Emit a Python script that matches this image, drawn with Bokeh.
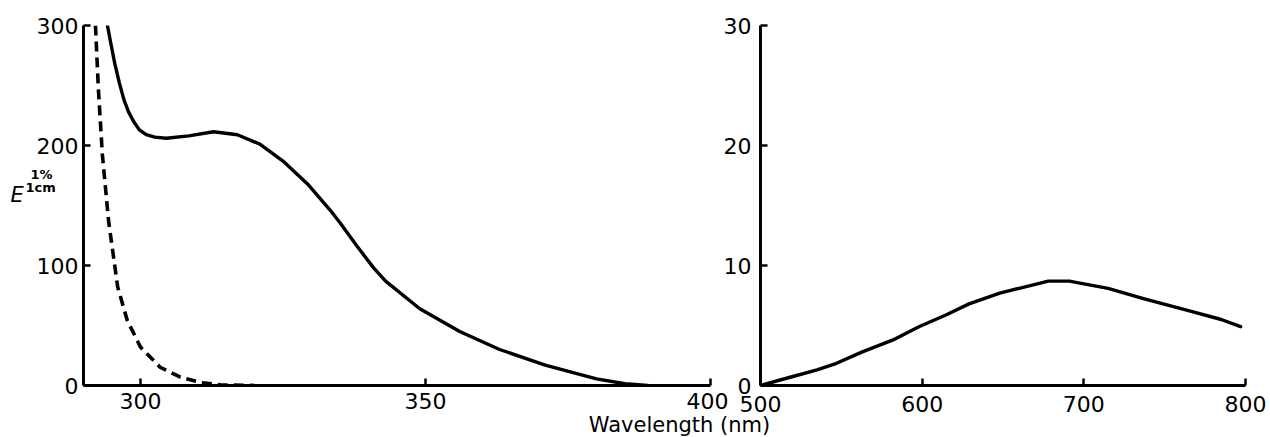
from bokeh.plotting import figure
from bokeh.layouts import row
from bokeh.models import Range1d, FixedTicker, Label
from bokeh.embed import file_html
from bokeh.resources import INLINE

# ---- data ----
uv_solid_nm = [294.2, 294.8, 295.5, 296.3, 297.1, 297.9, 298.8, 299.8, 301.0, 302.5,
               304.5, 308.5, 312.8, 317.0, 321.0, 325.0, 329.3, 333.3, 335.1, 338.0,
               340.9, 343.0, 349.0, 356.0, 363.0, 371.0, 380.0, 385.0, 389.0]
uv_solid_E = [300, 285, 268, 252, 238, 228, 220, 213, 209, 207,
              206, 208, 211.5, 209, 201, 187, 168, 146, 135, 116,
              98, 87, 64, 45, 30, 17, 5.5, 1.5, 0]

uv_dashed_nm = [292.1, 292.6, 293.3, 294.4, 296.0, 297.7, 300.0, 303.5, 307.0, 310.5, 314.0, 320.0]
uv_dashed_E = [300, 248, 193, 137, 82, 54, 32, 15, 7, 2.5, 0.5, 0]

vis_nm = [500, 520, 535, 547, 563, 582, 598, 615, 629, 648, 660, 678, 691, 715, 738, 763, 785, 797]
vis_E = [0, 0.75, 1.3, 1.85, 2.8, 3.8, 4.9, 5.9, 6.8, 7.7, 8.1, 8.7, 8.7, 8.1, 7.2, 6.3, 5.5, 4.9]

left_xticks = [300, 350, 400]
left_yticks = [0, 100, 200, 300]
right_xticks = [500, 600, 700, 800]
right_yticks = [0, 10, 20, 30]

x_title = "Wavelength (nm)"

FONT = "DejaVu Sans"
TICK_SIZE = "22px"


def style(p, xt, yt, xstand, ystand):
    p.xgrid.visible = False
    p.ygrid.visible = False
    p.outline_line_color = None
    p.background_fill_alpha = 0
    p.border_fill_alpha = 0
    p.xaxis.ticker = FixedTicker(ticks=xt)
    p.yaxis.ticker = FixedTicker(ticks=yt)
    for ax in (p.xaxis, p.yaxis):
        ax.axis_line_width = 3
        ax.axis_line_color = "black"
        ax.major_tick_in = 7
        ax.major_tick_out = 0
        ax.major_tick_line_width = 2.5
        ax.major_tick_line_color = "black"
        ax.minor_tick_in = 0
        ax.minor_tick_out = 0
        ax.major_label_text_font = FONT
        ax.major_label_text_font_size = TICK_SIZE
        ax.major_label_text_color = "black"
    p.xaxis.major_label_standoff = xstand
    p.yaxis.major_label_standoff = ystand


# ---- left panel (UV) ----
p1 = figure(width=728, height=437, x_range=Range1d(290, 400), y_range=Range1d(0, 300),
            output_backend="svg", toolbar_location=None,
            min_border_left=83, min_border_right=18, min_border_top=25, min_border_bottom=52)
style(p1, left_xticks, left_yticks, 7, 5)

p1.line(uv_solid_nm, uv_solid_E, line_color="black", line_width=3.4,
        line_join="round", line_cap="round")
p1.line(uv_dashed_nm, uv_dashed_E, line_color="black", line_width=3.6,
        line_dash="10 6")

# ---- right panel (visible) ----
p2 = figure(width=710, height=437, x_range=Range1d(500, 800), y_range=Range1d(0, 30),
            output_backend="svg", toolbar_location=None,
            min_border_left=200, min_border_right=25, min_border_top=25, min_border_bottom=52,
            margin=(0, 0, 0, -168))
style(p2, right_xticks, right_yticks, 10, 9)

p2.line(vis_nm, vis_E, line_color="black", line_width=3.4,
        line_join="round", line_cap="round")

# ---- transparent overlay carrying the free texts (page pixel space) ----
p3 = figure(width=1270, height=437, x_range=Range1d(0, 1270), y_range=Range1d(437, 0),
            output_backend="svg", toolbar_location=None,
            x_axis_type=None, y_axis_type=None, min_border=0,
            margin=(0, 0, 0, -1270))
p3.frame_align = False
p3.xgrid.visible = False
p3.ygrid.visible = False
p3.outline_line_color = None
p3.background_fill_alpha = 0
p3.border_fill_alpha = 0

p3.add_layout(Label(x=10, y=194, text="E", text_font=FONT, text_font_size="21px",
                    text_font_style="italic", text_baseline="alphabetic",
                    text_align="left", text_color="black"))
p3.add_layout(Label(x=30, y=174, text="1%", text_font=FONT, text_font_size="13px",
                    text_font_style="bold", text_baseline="middle",
                    text_align="left", text_color="black"))
p3.add_layout(Label(x=25, y=187, text="1cm", text_font=FONT, text_font_size="13px",
                    text_font_style="bold", text_baseline="middle",
                    text_align="left", text_color="black"))
p3.add_layout(Label(x=679, y=424, text=x_title, text_font=FONT, text_font_size="21px",
                    text_baseline="alphabetic", text_align="center", text_color="black"))

layout = row(p1, p2, p3)
open("out.html", "w").write(file_html(layout, INLINE))
